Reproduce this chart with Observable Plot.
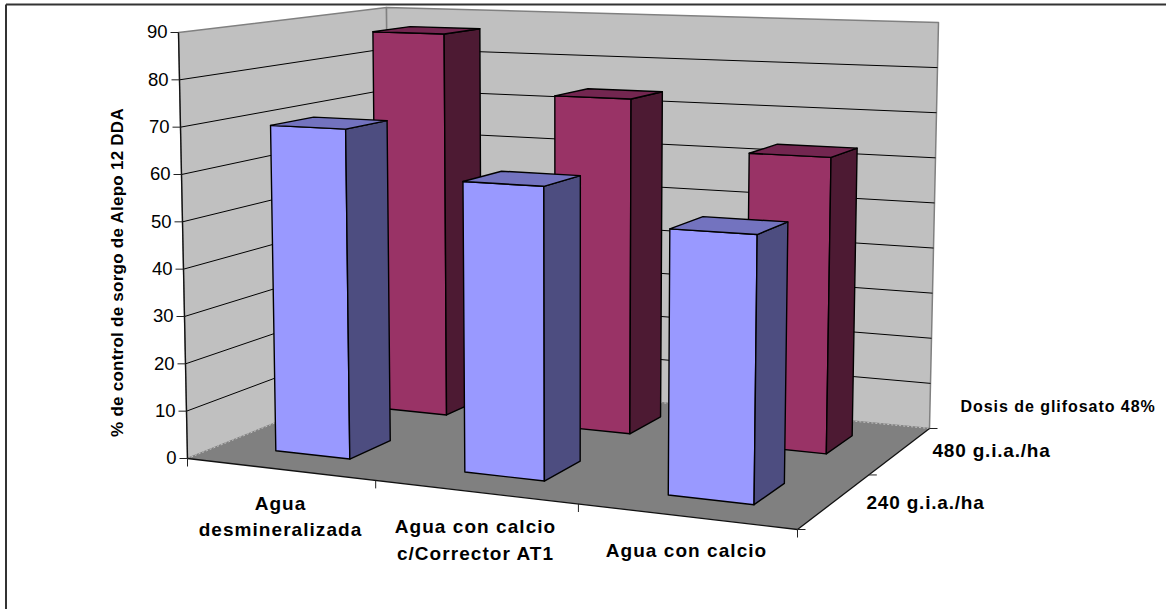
<!DOCTYPE html>
<html><head><meta charset="utf-8">
<script src="https://cdn.jsdelivr.net/npm/d3@7"></script>
<script src="https://cdn.jsdelivr.net/npm/@observablehq/plot@0.6"></script>
<style>html,body{margin:0;padding:0;background:#fff;overflow:hidden}svg{display:block}
.lab-cat text,.lab-cat tspan{letter-spacing:1.05px}
.lab-dose text{letter-spacing:.8px}
.lab-depth text{letter-spacing:.95px}
.lab-y text{letter-spacing:.25px}
</style>
</head><body><div id="chart"></div>
<script>
// ---- data ----
const categories = ["Agua\ndesmineralizada", "Agua con calcio\nc/Corrector AT1", "Agua con calcio"];
const doses = ["240 g.i.a./ha", "480 g.i.a./ha"];
const dose240 = [69.6, 60, 53];
const dose480 = [86.6, 73.6, 63];
const valueTicks = [0,10,20,30,40,50,60,70,80,90];
const valueMax = 90;
const yTitle = "% de control de sorgo de Alepo 12 DDA";
const depthTitle = "Dosis de glifosato 48%";

// ---- oblique view of the chart box (picture geometry, not data) ----
const floorQuad = [[187,458],[797,529],[929,428],[389,376]];
const roofQuad  = [[178,32],[804,53],[938,22],[386,7]];
function homography(q){
  const [[x0,y0],[x1,y1],[x2,y2],[x3,y3]] = q;
  const dx1=x1-x2, dx2=x3-x2, sx=x0-x1+x2-x3, dy1=y1-y2, dy2=y3-y2, sy=y0-y1+y2-y3;
  const den=dx1*dy2-dx2*dy1, g=(sx*dy2-dx2*sy)/den, h=(dx1*sy-sx*dy1)/den;
  const a=x1-x0+g*x1, b=x3-x0+h*x3, d=y1-y0+g*y1, e=y3-y0+h*y3;
  return (u,v)=>{const w=g*u+h*v+1; return [(a*u+b*v+x0)/w,(d*u+e*v+y0)/w];};
}
const floorH = homography(floorQuad), roofH = homography(roofQuad);
const project = (u,v,val)=>{
  const f=floorH(u,v), r=roofH(u,v), t=val/valueMax;
  return [f[0]+(r[0]-f[0])*t, f[1]+(r[1]-f[1])*t];
};

// ---- faces ----
const faces=[];
function face(fill,stroke,sw,pts){
  const id=faces.length;
  const rows=[...pts,pts[0]].map(p=>({id,x:p[0],y:p[1]}));
  faces.push({fill,stroke,sw,rows});
}
face("#C0C0C0","#808080",1.5,[project(0,0,0),project(0,0,90),project(0,1,90),project(0,1,0)]);
face("#C0C0C0","#808080",1.5,[project(0,1,0),project(0,1,90),project(1,1,90),project(1,1,0)]);
face("#808080","none",0,[project(0,0,0),project(1,0,0),project(1,1,0),project(0,1,0)]);

const palette=[
  {front:"#9999FF",side:"#4D4D80",top:"#7373BF"},
  {front:"#993366",side:"#4D1A33",top:"#732650"}];
const GAP=0.3;
function bar(i,j,val){
  const c=palette[j];
  const u0=(i+GAP)/3,u1=(i+1-GAP)/3,v0=(j+GAP)/2,v1=(j+1-GAP)/2;
  face(c.front,"#000",1.4,[project(u0,v0,0),project(u1,v0,0),project(u1,v0,val),project(u0,v0,val)]);
  face(c.side,"#000",1.4,[project(u1,v0,0),project(u1,v1,0),project(u1,v1,val),project(u1,v0,val)]);
  face(c.top,"#000",1.4,[project(u0,v0,val),project(u1,v0,val),project(u1,v1,val),project(u0,v1,val)]);
}

const grid=valueTicks.filter(t=>t>0&&t<valueMax).flatMap(t=>[
  [project(0,0,t),project(0,1,t)],[project(0,1,t),project(1,1,t)]
]).map(([a,b])=>({x1:a[0],y1:a[1],x2:b[0],y2:b[1]}));

dose480.forEach((v,i)=>bar(i,1,v));
dose240.forEach((v,i)=>bar(i,0,v));

const faceMark=f=>Plot.line(f.rows,{x:"x",y:"y",z:"id",fill:f.fill,stroke:f.stroke,strokeWidth:f.sw,curve:"linear-closed"});

const link=(a,b)=>({x1:a[0],y1:a[1],x2:b[0],y2:b[1]});
const axisLines=[
  link(project(0,0,90),project(0,0,0)),
  link(project(0,0,0),project(1,0,0)),
  link(project(1,0,0),project(1,1,0))
];
const valueTickRows=valueTicks.map(t=>{const p=project(0,0,t);return {t,x:p[0],y:p[1]};});
const catTicks=[0,1,2,3].map(i=>project(i/3,0,0)).map(p=>link(p,[p[0],p[1]+8]));
const depthTicks=[0,1,2].map(j=>project(1,j/2,0)).map(p=>link(p,[p[0]+8,p[1]]));

// label anchors (picture geometry)
const catLabelAnchors=[[280,514],[475,537.5],[686,548]];
const doseLabelAnchors=[[866,502],[932,450]];
const font="Liberation Sans, Arial, sans-serif";
const catRows=categories.map((c,i)=>({c,x:catLabelAnchors[i][0],y:catLabelAnchors[i][1]}));
const doseRows=doses.map((d,i)=>({d,x:doseLabelAnchors[i][0],y:doseLabelAnchors[i][1]}));

const frame=[{x1:5.5,y1:4,x2:1166,y2:4},{x1:5.5,y1:4,x2:5.5,y2:609}];

const fig=Plot.plot({
  width:1166,height:609,margin:0,
  x:{domain:[0,1166],range:[0,1166],axis:null},
  y:{domain:[0,609],range:[0,609],axis:null},
  style:{background:"#fff",fontFamily:font},
  marks:[
    Plot.link(frame,{x1:"x1",y1:"y1",x2:"x2",y2:"y2",stroke:"#333",strokeWidth:2}),
    ...faces.slice(0,3).map(faceMark),
    Plot.link(grid,{x1:"x1",y1:"y1",x2:"x2",y2:"y2",stroke:"#000",strokeWidth:1}),
    Plot.link([link(project(0,0,0),project(0,1,0)),link(project(0,1,0),project(1,1,0))],
      {x1:"x1",y1:"y1",x2:"x2",y2:"y2",stroke:"#C0C0C0",strokeWidth:1,strokeDasharray:"2,2"}),
    ...faces.slice(3).map(faceMark),
    Plot.link(axisLines,{x1:"x1",y1:"y1",x2:"x2",y2:"y2",stroke:"#111",strokeWidth:1.3}),
    Plot.link(valueTickRows,{x1:"x",y1:"y",x2:d=>d.x-8,y2:"y",stroke:"#222",strokeWidth:1}),
    Plot.link(catTicks,{x1:"x1",y1:"y1",x2:"x2",y2:"y2",stroke:"#222",strokeWidth:1}),
    Plot.link(depthTicks,{x1:"x1",y1:"y1",x2:"x2",y2:"y2",stroke:"#222",strokeWidth:1}),
    Plot.text(valueTickRows,{x:d=>d.x-11,y:"y",text:d=>String(d.t),textAnchor:"end",fontSize:18.5,fill:"#000"}),
    Plot.text(catRows,{x:"x",y:"y",text:"c",fontSize:19,fontWeight:"bold",lineHeight:1.4,lineAnchor:"middle",fill:"#000",className:"lab-cat"}),
    Plot.text(doseRows,{x:"x",y:"y",text:"d",textAnchor:"start",fontSize:19,fontWeight:"bold",fill:"#000",className:"lab-dose"}),
    Plot.text([depthTitle],{x:()=>960,y:()=>406,text:d=>d,textAnchor:"start",fontSize:16,fontWeight:"bold",fill:"#000",className:"lab-depth"}),
    Plot.text([yTitle],{x:()=>117,y:()=>272,text:d=>d,rotate:-90,fontSize:17,fontWeight:"bold",fill:"#000",className:"lab-y"})
  ]
});
document.getElementById("chart").append(fig);
</script></body></html>
